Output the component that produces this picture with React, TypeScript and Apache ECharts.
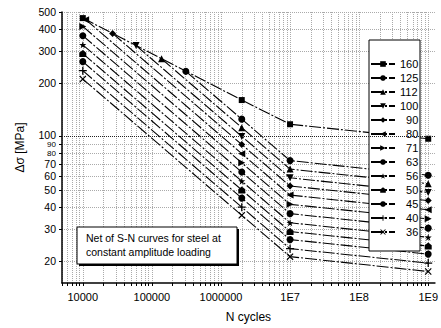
import React, { useEffect, useRef } from "react";
import * as echarts from "echarts";

// Detail categories (legend order)
const categories = ["160", "125", "112", "100", "90", "80", "71", "63", "56", "50", "45", "40", "36"];
// First point of each curve (cycles, stress range MPa)
const startCycles = [10000, 310000, 138000, 59000, 27000, 11000, 10000, 10000, 10000, 10000, 10000, 10000, 10000];
const startStress = [462, 232, 273, 324, 379, 453, 415, 368, 327, 292, 263, 234, 210];
// Knee points
const kneeCycles = [2000000, 10000000, 1000000000];
const stressAt2e6 = [160, 125, 112, 100, 90, 80, 71, 63, 56, 50, 45, 40, 36];
const stressAt1e7 = [117, 73.1, 65.5, 58.5, 52.6, 46.8, 41.5, 36.8, 32.7, 29.2, 26.3, 23.4, 21.1];
const stressAt1e9 = [97, 60.5, 54.2, 48.4, 43.6, 38.7, 34.4, 30.5, 27.1, 24.2, 21.8, 19.4, 17.4];

// Axis tick labels
const xLabelValues = [10000, 100000, 1000000, 10000000, 100000000, 1000000000];
const yLabelValues = [20, 30, 40, 50, 60, 70, 80, 90, 100, 200, 300, 400, 500];
const yCrowdedLabels = [80, 90];
const xMinorMultipliers = [1, 2, 3, 4, 5, 6, 7, 8, 9];

const symbols = [
  "rect",
  "circle",
  "triangle",
  "path://M0,0 L10,0 L5,10 Z",
  "diamond",
  "path://M10,0 L10,10 L0,5 Z",
  "path://M0,0 L0,10 L10,5 Z",
  "circle",
  "path://M5,0 L6.2,3.6 L10,3.6 L7,5.9 L8.1,9.5 L5,7.3 L1.9,9.5 L3,5.9 L0,3.6 L3.8,3.6 Z",
  "path://M5,0 L10,4 L10,10 L0,10 L0,4 Z",
  "circle",
  "path://M4.2,0 L5.8,0 L5.8,4.2 L10,4.2 L10,5.8 L5.8,5.8 L5.8,10 L4.2,10 L4.2,5.8 L0,5.8 L0,4.2 L4.2,4.2 Z",
  "path://M0,1.2 L1.2,0 L5,3.8 L8.8,0 L10,1.2 L6.2,5 L10,8.8 L8.8,10 L5,6.2 L1.2,10 L0,8.8 L3.8,5 Z",
];
const symbolSizes = [6, 7, 7, 7, 7, 7, 7, 7, 7, 7, 7, 8, 7];

const FONT = "'Liberation Sans', Arial, sans-serif";

export default function App() {
  const ref = useRef<HTMLDivElement>(null);
  useEffect(() => {
    if (!ref.current) return;
    const chart = echarts.init(ref.current, undefined, { renderer: "svg" });

    const xGrid: number[] = [];
    [1000, 10000, 100000, 1000000, 10000000, 100000000, 1000000000].forEach((d) =>
      xMinorMultipliers.forEach((m) => {
        const v = d * m;
        if (v >= 5000 && v <= 1250000000) xGrid.push(v);
      })
    );

    const series: any[] = categories.map((name, i) => ({
      name,
      type: "line",
      symbol: symbols[i],
      symbolSize: symbolSizes[i],
      showSymbol: true,
      data: [
        [startCycles[i], startStress[i]],
        [kneeCycles[0], stressAt2e6[i]],
        [kneeCycles[1], stressAt1e7[i]],
        [kneeCycles[2], stressAt1e9[i]],
      ],
      lineStyle: { color: "#000", width: 1.1, type: [12, 2, 2, 2] },
      itemStyle: { color: "#000" },
      z: 2,
    }));
    series[0].markLine = {
      silent: true,
      symbol: "none",
      label: { show: false },
      lineStyle: { color: "#222", type: "dotted", width: 1 },
      data: [{ yAxis: 100 }],
      animation: false,
    };

    chart.setOption({
      animation: false,
      backgroundColor: "#fff",
      grid: { left: 62, right: 6, top: 12, bottom: 42, containLabel: false },
      xAxis: {
        type: "log",
        logBase: 10,
        min: 5000,
        max: 1250000000,
        name: "N cycles",
        nameLocation: "middle",
        nameGap: 28,
        nameTextStyle: { fontFamily: FONT, fontSize: 12, color: "#000" },
        axisLine: { show: true, lineStyle: { color: "#000", width: 1.5 } },
        axisTick: { show: true, length: 3, customValues: xGrid, lineStyle: { color: "#000" } },
        axisLabel: {
          customValues: xLabelValues,
          fontFamily: FONT,
          fontSize: 11,
          color: "#000",
          margin: 8,
          formatter: (v: number) => (v <= 1000000 ? String(Math.round(v)) : "1E" + Math.round(Math.log10(v))),
        },
        splitLine: { show: true, lineStyle: { color: "#aaa", type: "dotted", width: 1 } },
      },
      yAxis: {
        type: "log",
        logBase: 10,
        min: 15,
        max: 500,
        name: "Δσ [MPa]",
        nameLocation: "middle",
        nameGap: 36,
        nameRotate: 90,
        nameTextStyle: { fontFamily: FONT, fontSize: 12, color: "#000" },
        axisLine: { show: true, lineStyle: { color: "#000", width: 1.5 } },
        axisTick: { show: true, length: 3, customValues: yLabelValues, lineStyle: { color: "#000" } },
        axisLabel: {
          customValues: yLabelValues,
          fontFamily: FONT,
          fontSize: 10.5,
          lineHeight: 8,
          color: "#000",
          margin: 6,
          formatter: (v: number) => {
            const r = Math.round(v);
            if (r === 100) return "{t|100}";
            return yCrowdedLabels.indexOf(r) >= 0 ? "{s|" + r + "}" : String(r);
          },
          rich: {
            s: { fontFamily: FONT, fontSize: 8, lineHeight: 7, color: "#000" },
            t: { fontFamily: FONT, fontSize: 10.5, lineHeight: 8, padding: [0, 0, 3, 0], color: "#000" },
          },
        },
        splitLine: { show: true, lineStyle: { color: "#aaa", type: "dotted", width: 1 } },
      },
      legend: {
        data: categories,
        orient: "vertical",
        left: 370,
        top: 58,
        itemWidth: 24,
        itemHeight: 7,
        itemGap: 2,
        padding: 0,
        formatter: (name: string) => (name.length < 3 ? "\u2007" + name : name),
        textStyle: { fontFamily: FONT, fontSize: 11, lineHeight: 12, color: "#000" },
        z: 5,
      },
      graphic: [
        {
          type: "rect",
          z: 3,
          shape: { x: 369, y: 40, width: 51, height: 211 },
          style: { fill: "#fff", stroke: "#000", lineWidth: 1 },
        },
        {
          type: "rect",
          z: 3,
          shape: { x: 79, y: 229, width: 160, height: 37 },
          style: { fill: "#000" },
        },
        {
          type: "rect",
          z: 3,
          shape: { x: 77, y: 227, width: 160, height: 37 },
          style: { fill: "#fff", stroke: "#000", lineWidth: 1 },
        },
        {
          type: "text",
          z: 4,
          x: 86,
          y: 231,
          style: {
            text: "Net of S-N curves for steel at\nconstant amplitude loading",
            font: "10.5px " + FONT,
            fill: "#000",
            lineHeight: 14,
          },
        },
      ],
      series,
    });
    return () => chart.dispose();
  }, []);
  return <div ref={ref} style={{ width: 441, height: 328, position: "absolute", left: 0, top: 0 }} />;
}
